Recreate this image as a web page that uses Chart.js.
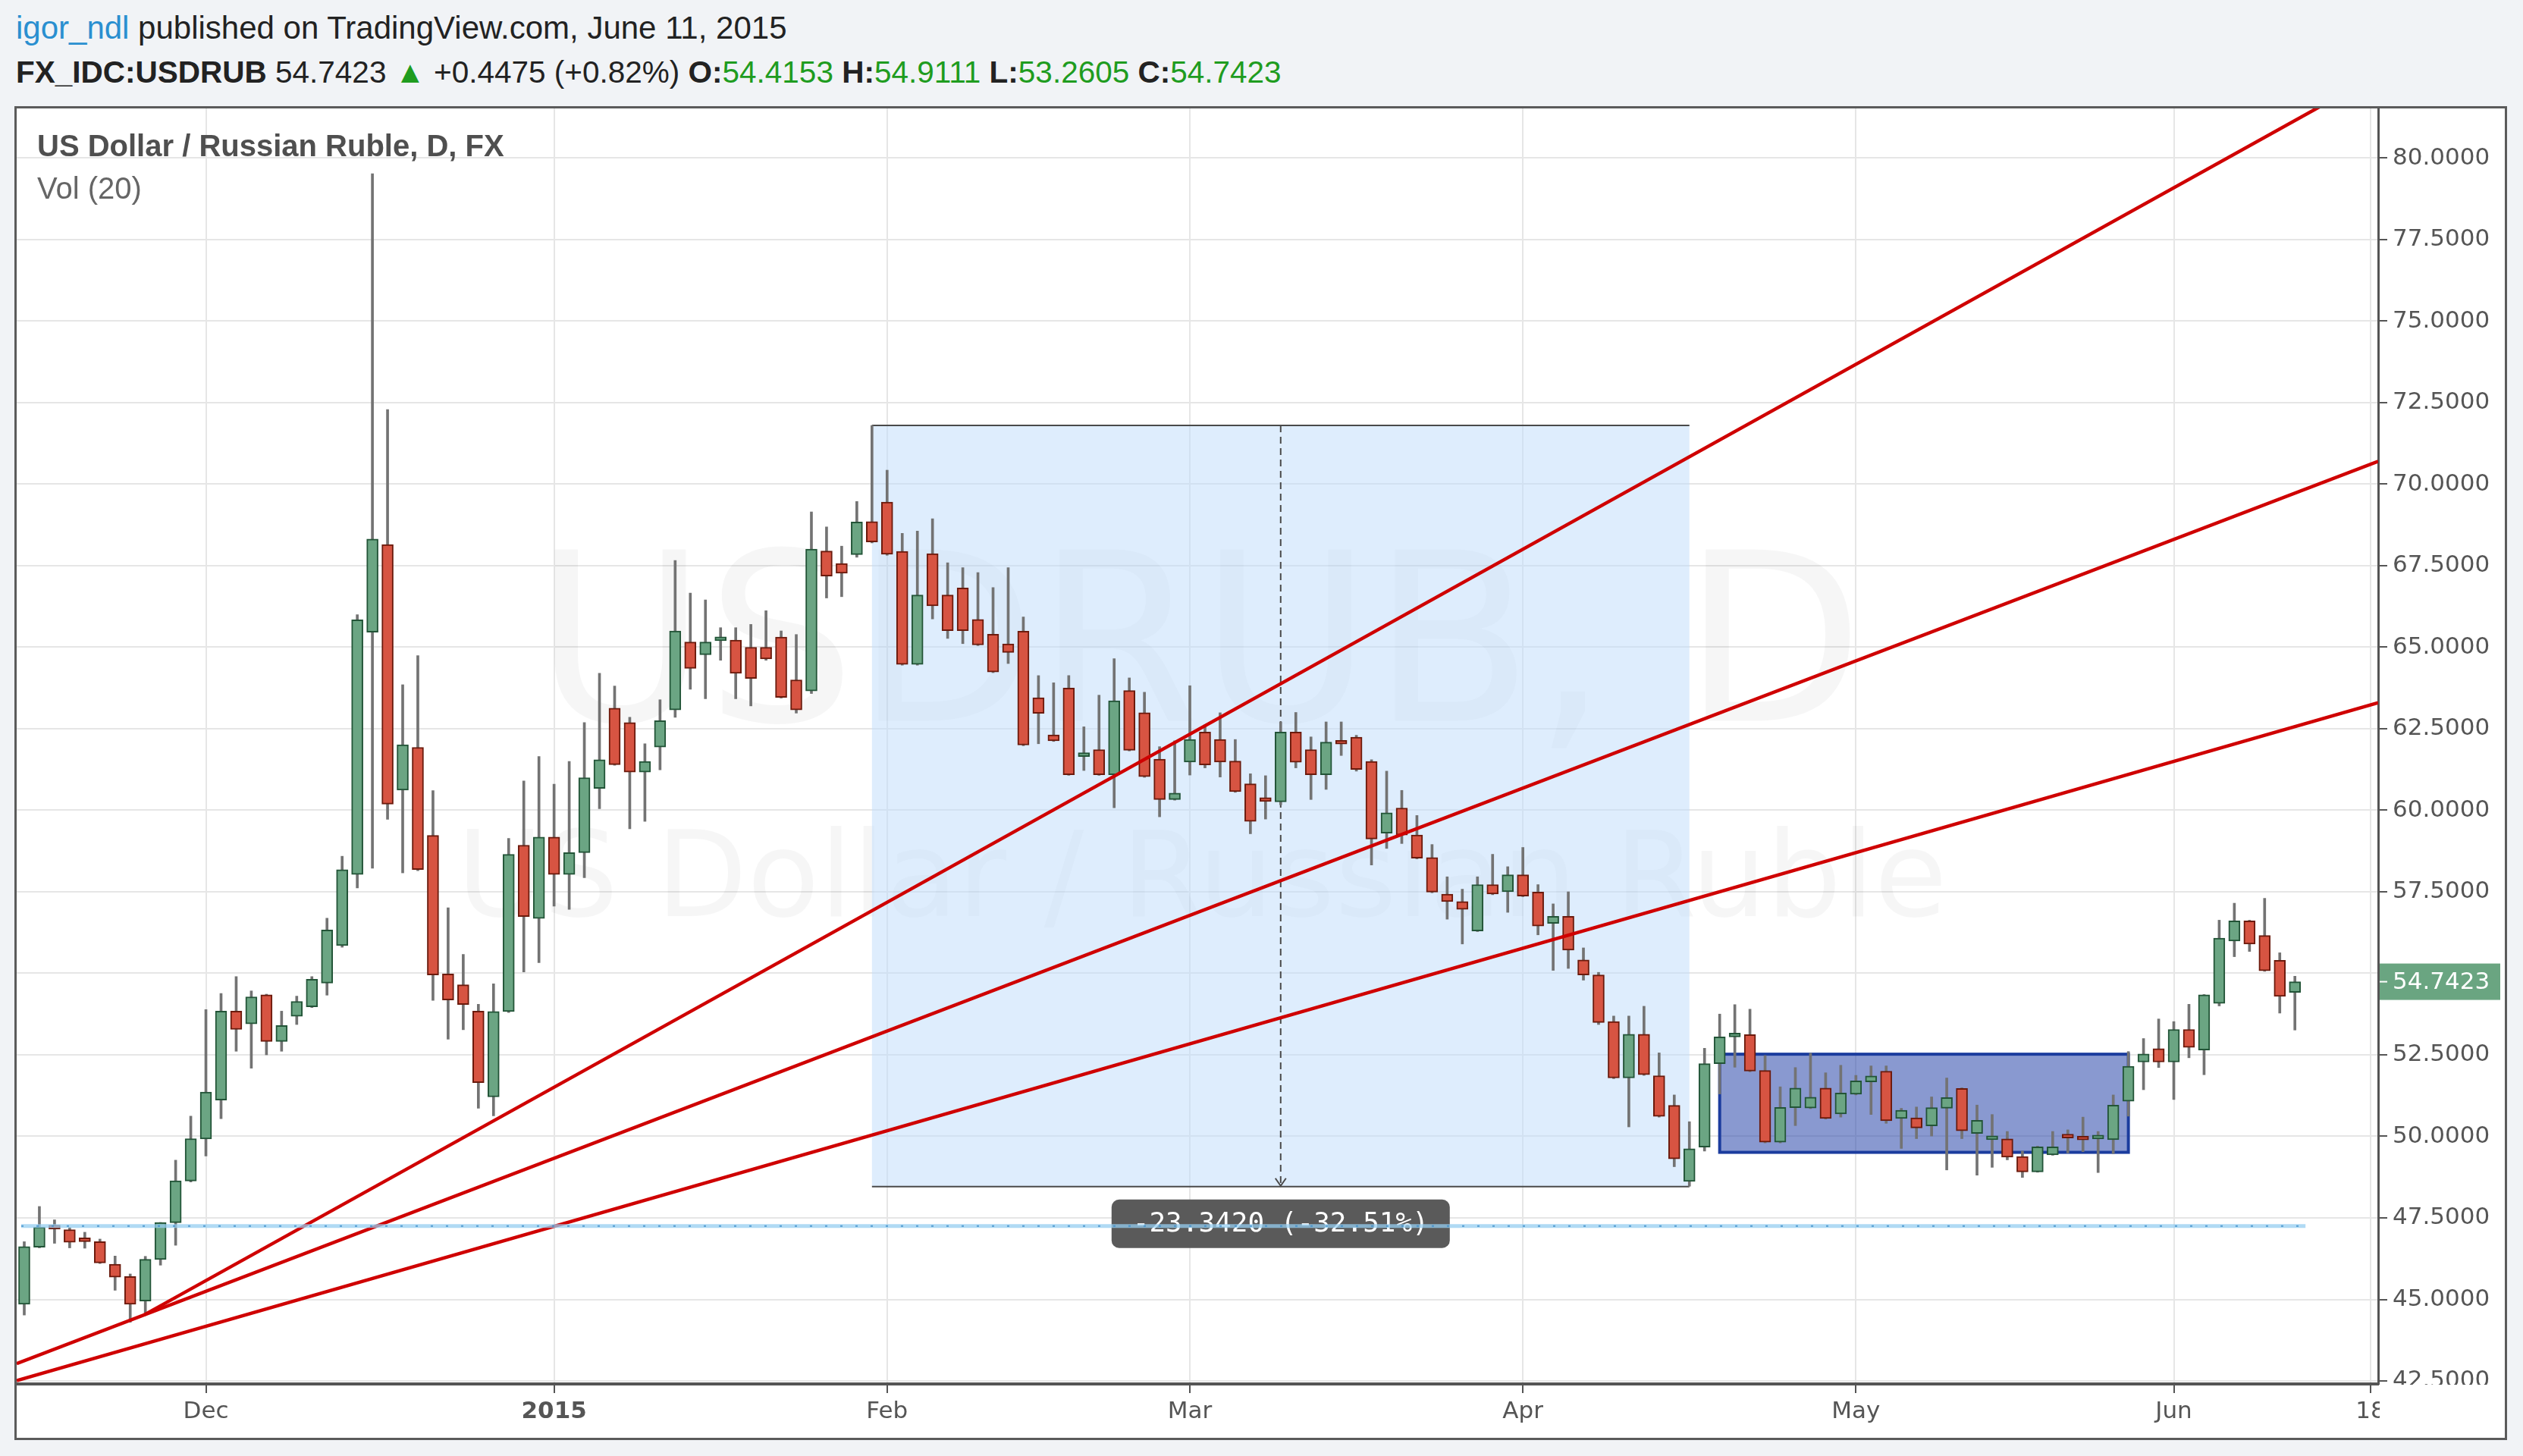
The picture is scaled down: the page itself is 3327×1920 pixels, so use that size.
<!DOCTYPE html>
<html>
<head>
<meta charset="utf-8">
<script src="https://cdn.jsdelivr.net/npm/chart.js@4.4.1/dist/chart.umd.min.js"></script>
<style>
  html, body { margin: 0; padding: 0; }
  body { width: 3327px; height: 1920px; background: #f1f3f6; position: relative; overflow: hidden;
         font-family: "Liberation Sans", Arial, sans-serif; }
  .hdr { position: absolute; left: 21px; font-size: 42px; color: #222; white-space: nowrap; }
  #h1 { top: 13px; }
  #h2 { top: 72px; font-size: 40.5px; }
  .user { color: #2a8fd0; }
  .g { color: #1f9c1f; }
  #frame { position: absolute; left: 19px; top: 140px; width: 3287px; height: 1759px; box-sizing: border-box;
           border: 3px solid #5b5b5b; background: #fff; }
  #chart { position: absolute; left: 0; top: 0; }
</style>
</head>
<body>
<div class="hdr" id="h1"><span class="user">igor_ndl</span> published on TradingView.com, June 11, 2015</div>
<div class="hdr" id="h2"><b>FX_IDC:USDRUB</b> 54.7423 <span class="g">&#9650;</span> +0.4475 (+0.82%) <b>O:</b><span class="g">54.4153</span> <b>H:</b><span class="g">54.9111</span> <b>L:</b><span class="g">53.2605</span> <b>C:</b><span class="g">54.7423</span></div>
<div id="frame"><canvas id="chart" width="3281" height="1753"></canvas></div>
<script>
// daily candles, 13 Nov 2014 .. 11 Jun 2015 (weekdays)
const open = [
  44.85, 46.60, 47.20, 47.14, 46.80, 46.77, 46.08, 45.70, 44.95, 46.22,
  47.35, 48.63, 49.92, 51.11, 53.84, 53.45, 54.34, 52.91, 53.68, 53.97,
  54.70, 55.85, 58.03, 65.46, 68.15, 60.62, 61.93, 59.23, 54.98, 54.65,
  53.84, 51.21, 53.83, 58.93, 56.68, 59.18, 58.03, 58.70, 60.67, 63.13,
  62.69, 61.17, 61.94, 63.08, 65.16, 64.77, 65.20, 65.22, 65.00, 65.00,
  65.31, 64.00, 63.66, 67.95, 67.57, 67.84, 68.85, 69.45, 67.94, 64.47,
  67.87, 66.60, 66.82, 65.85, 65.40, 65.10, 65.49, 63.45, 62.31, 63.75,
  61.65, 61.86, 61.09, 63.67, 62.99, 61.57, 60.33, 61.48, 62.40, 62.17,
  61.51, 60.81, 60.30, 60.26, 62.40, 61.86, 61.09, 62.06, 62.24, 61.50,
  59.30, 60.07, 59.24, 58.55, 57.43, 57.20, 56.30, 57.72, 57.50, 58.02,
  57.49, 56.53, 56.75, 55.41, 54.95, 53.52, 51.79, 53.13, 51.86, 50.95,
  48.62, 49.67, 52.23, 53.05, 53.12, 52.02, 49.82, 50.88, 50.87, 51.48,
  50.69, 51.29, 51.67, 52.00, 50.55, 50.57, 50.32, 50.86, 51.47, 50.09,
  49.90, 49.92, 49.38, 48.91, 49.43, 49.97, 49.91, 49.92, 49.90, 51.08,
  52.28, 52.69, 52.28, 53.28, 52.65, 54.08, 55.99, 56.61, 56.16, 55.40,
  54.4153
];
const high = [
  46.77, 47.85, 47.44, 47.20, 47.06, 46.85, 46.33, 45.78, 46.32, 47.36,
  49.27, 50.62, 53.89, 54.38, 54.90, 54.46, 54.36, 53.84, 54.30, 54.90,
  56.69, 58.59, 66.00, 79.52, 72.29, 63.85, 64.74, 60.60, 57.01, 55.58,
  54.05, 54.68, 59.14, 60.90, 61.65, 60.80, 61.50, 62.69, 64.20, 63.81,
  62.85, 62.04, 63.39, 67.66, 66.66, 66.45, 65.60, 65.60, 65.70, 66.12,
  65.50, 65.39, 69.15, 68.69, 68.10, 69.47, 71.80, 70.43, 68.49, 68.56,
  68.94, 67.59, 67.44, 67.29, 66.83, 67.44, 65.93, 64.13, 63.91, 64.13,
  62.56, 63.53, 64.65, 64.06, 63.62, 61.95, 62.13, 63.82, 62.62, 62.99,
  62.17, 61.12, 61.06, 62.71, 63.00, 62.25, 62.71, 62.71, 62.30, 61.55,
  61.20, 60.61, 59.84, 58.95, 57.96, 57.58, 57.96, 58.65, 58.27, 58.86,
  57.72, 57.13, 57.50, 55.78, 55.03, 53.69, 53.69, 53.99, 52.56, 51.27,
  50.45, 52.70, 53.75, 54.04, 53.90, 52.48, 51.52, 52.11, 52.55, 51.95,
  52.18, 51.87, 52.16, 52.16, 50.86, 50.90, 51.21, 51.79, 51.49, 50.96,
  50.67, 50.15, 49.55, 49.70, 50.15, 50.20, 50.59, 50.15, 51.27, 52.60,
  53.00, 53.60, 53.52, 54.05, 54.35, 56.63, 57.15, 56.63, 57.30, 55.63,
  54.9111
];
const low = [
  44.52, 46.58, 46.72, 46.58, 46.57, 46.10, 45.28, 44.30, 44.60, 46.05,
  46.66, 48.60, 49.40, 50.54, 52.61, 52.09, 52.50, 52.61, 53.43, 53.95,
  54.33, 55.80, 57.62, 58.22, 59.72, 58.08, 58.15, 54.17, 52.98, 53.27,
  50.86, 50.63, 53.80, 55.04, 55.33, 57.06, 56.96, 57.93, 60.05, 61.38,
  59.43, 59.66, 61.24, 62.85, 63.71, 63.42, 64.60, 63.42, 63.20, 64.60,
  63.44, 62.98, 63.58, 66.51, 66.55, 67.76, 68.20, 67.82, 64.45, 64.45,
  65.87, 65.27, 65.11, 65.05, 64.22, 64.50, 61.98, 62.04, 62.11, 61.07,
  61.22, 61.07, 60.08, 61.82, 61.01, 59.80, 60.31, 61.08, 61.30, 61.02,
  60.55, 59.28, 59.73, 60.17, 61.30, 60.33, 60.64, 61.68, 61.20, 58.32,
  58.83, 58.98, 58.51, 57.47, 56.66, 55.90, 56.28, 57.41, 56.87, 57.35,
  56.18, 55.09, 55.15, 54.79, 53.43, 51.77, 50.29, 51.87, 50.59, 49.07,
  48.47, 49.55, 51.30, 52.12, 51.98, 49.80, 49.80, 50.33, 50.85, 50.53,
  50.59, 51.27, 50.67, 50.40, 49.63, 49.93, 50.01, 48.97, 49.93, 48.81,
  49.05, 49.28, 48.74, 48.90, 49.42, 49.49, 49.53, 48.89, 49.47, 50.62,
  51.43, 52.11, 51.13, 52.41, 51.89, 54.00, 55.51, 55.67, 55.06, 53.78,
  53.2605
];
const close = [
  46.62, 47.22, 47.16, 46.75, 46.77, 46.12, 45.68, 44.85, 46.23, 47.36,
  48.64, 49.93, 51.36, 53.84, 53.28, 54.28, 52.91, 53.40, 54.14, 54.82,
  56.33, 58.18, 65.84, 68.32, 60.19, 62.01, 58.18, 54.95, 54.18, 54.04,
  51.65, 53.83, 58.65, 56.74, 59.18, 58.03, 58.70, 61.00, 61.55, 61.40,
  61.17, 61.50, 62.75, 65.50, 64.35, 65.16, 65.25, 64.20, 64.04, 64.64,
  63.46, 63.08, 68.01, 67.18, 67.27, 68.84, 68.23, 67.85, 64.47, 66.60,
  66.27, 65.51, 65.51, 65.07, 64.24, 64.84, 62.00, 62.97, 62.13, 61.09,
  61.68, 61.09, 63.36, 61.84, 61.03, 60.33, 60.53, 62.17, 61.39, 61.48,
  60.57, 59.66, 60.27, 62.40, 61.47, 61.09, 62.09, 62.03, 61.25, 59.12,
  59.92, 59.24, 58.53, 57.49, 57.20, 56.96, 57.72, 57.43, 58.02, 57.37,
  56.45, 56.75, 55.71, 54.95, 53.49, 51.79, 53.13, 51.89, 50.61, 49.31,
  49.62, 52.23, 53.05, 53.10, 52.00, 49.82, 50.89, 51.48, 51.20, 50.55,
  51.33, 51.70, 51.85, 50.48, 50.80, 50.26, 50.88, 51.19, 50.17, 50.49,
  49.93, 49.36, 48.91, 49.68, 49.68, 49.95, 49.89, 49.95, 50.96, 52.15,
  52.53, 52.28, 53.28, 52.73, 54.34, 56.08, 56.61, 55.90, 55.08, 54.29,
  54.7423
];

// axis ticks (bar index of first trading day of each month, plus 18 Jun)
const monthTickIdx = [12, 35, 57, 77, 99, 121, 142, 155];
const monthTickLabels = ['Dec', '2015', 'Feb', 'Mar', 'Apr', 'May', 'Jun', '18'];
const priceTicks = [42.5, 45, 47.5, 50, 52.5, 55, 57.5, 60, 62.5, 65, 67.5, 70, 72.5, 75, 77.5, 80];
const lastPrice = 54.7423;

// drawings on the chart (bar index, price)
const fanA = [{x: 7.9, y: 44.52}, {x: 155.5, y: 82.57}];
const fanB = [{x: -0.5, y: 43.03}, {x: 155.5, y: 70.70}];
const fanC = [{x: -0.5, y: 42.51}, {x: 155.5, y: 63.30}];
const measureX = [56, 110];
const measureY = [48.46, 71.80];
const measureText = '-23.3420 (-32.51%)';
const rangeBoxX = [112, 139];
const rangeBoxY = [49.51, 52.52];
const levelX = [-0.2, 150.7];
const levelY = 47.25;

const idx = close.map((_, i) => i);
const up = idx.map(i => close[i] >= open[i]);
const wicks = idx.map(i => ({x: i, y: [low[i], high[i]]}));
const bodies = idx.map(i => ({x: i, y: [Math.min(open[i], close[i]), Math.max(open[i], close[i])]}));

const drawings = {
  id: 'drawings',
  beforeDatasetsDraw(chart) {
    const {ctx, chartArea: a, scales: {x, y}} = chart;
    ctx.save();
    ctx.beginPath();
    ctx.rect(a.left, a.top, a.right - a.left, a.bottom - a.top);
    ctx.clip();

    // watermark
    const cx = (a.left + a.right) / 2, cy = (a.top + a.bottom) / 2;
    ctx.fillStyle = 'rgba(0,0,0,0.035)';
    ctx.textAlign = 'center';
    ctx.textBaseline = 'middle';
    ctx.font = '310px "DejaVu Sans"';
    ctx.fillText('USDRUB, D', cx + 2, cy - 114);
    ctx.font = '156px "DejaVu Sans"';
    ctx.fillText('US Dollar / Russian Ruble', cx + 6, cy + 183);

    // measure box
    const mx0 = x.getPixelForValue(measureX[0]), mx1 = x.getPixelForValue(measureX[1]);
    const myT = y.getPixelForValue(measureY[1]), myB = y.getPixelForValue(measureY[0]);
    ctx.fillStyle = 'rgba(190,220,252,0.5)';
    ctx.fillRect(mx0, myT, mx1 - mx0, myB - myT);
    ctx.strokeStyle = '#4a4a4a';
    ctx.lineWidth = 2;
    ctx.beginPath();
    ctx.moveTo(mx0, myT); ctx.lineTo(mx1, myT);
    ctx.moveTo(mx0, myB); ctx.lineTo(mx1, myB);
    ctx.stroke();
    const mc = x.getPixelForValue((measureX[0] + measureX[1]) / 2);
    ctx.setLineDash([9, 6]);
    ctx.beginPath();
    ctx.moveTo(mc, myT); ctx.lineTo(mc, myB);
    ctx.stroke();
    ctx.setLineDash([]);
    ctx.beginPath();
    ctx.moveTo(mc - 7, myB - 11); ctx.lineTo(mc, myB - 1); ctx.lineTo(mc + 7, myB - 11);
    ctx.stroke();

    // range rectangle
    const rx0 = x.getPixelForValue(rangeBoxX[0]), rx1 = x.getPixelForValue(rangeBoxX[1]);
    const ryT = y.getPixelForValue(rangeBoxY[1]), ryB = y.getPixelForValue(rangeBoxY[0]);
    ctx.fillStyle = 'rgba(40,70,170,0.55)';
    ctx.fillRect(rx0, ryT, rx1 - rx0, ryB - ryT);
    ctx.strokeStyle = '#1b3c9e';
    ctx.lineWidth = 4;
    ctx.strokeRect(rx0, ryT, rx1 - rx0, ryB - ryT);
    ctx.restore();
  },
  afterDatasetsDraw(chart) {
    const {ctx, chartArea: a, scales: {x, y}} = chart;
    ctx.save();
    // measure label
    const mc = x.getPixelForValue((measureX[0] + measureX[1]) / 2);
    const myB = y.getPixelForValue(measureY[0]);
    const w = 446, h = 64, top = myB + 17;
    ctx.fillStyle = '#5a5a5a';
    ctx.beginPath();
    ctx.roundRect(mc - w / 2, top, w, h, 10);
    ctx.fill();
    ctx.fillStyle = '#fff';
    ctx.font = '36px "DejaVu Sans Mono"';
    ctx.textAlign = 'center';
    ctx.textBaseline = 'middle';
    ctx.fillText(measureText, mc, top + h / 2 + 1);

    // horizontal level
    const ly = y.getPixelForValue(levelY);
    const lx0 = x.getPixelForValue(levelX[0]), lx1 = x.getPixelForValue(levelX[1]);
    ctx.strokeStyle = 'rgba(150,205,240,0.75)';
    ctx.lineWidth = 5;
    ctx.beginPath(); ctx.moveTo(lx0, ly); ctx.lineTo(lx1, ly); ctx.stroke();
    ctx.strokeStyle = 'rgba(60,140,200,0.8)';
    ctx.lineWidth = 2;
    ctx.setLineDash([3, 17]);
    ctx.beginPath(); ctx.moveTo(lx0, ly); ctx.lineTo(lx1, ly); ctx.stroke();
    ctx.setLineDash([]);

    // title inside the pane
    ctx.textAlign = 'left';
    ctx.textBaseline = 'middle';
    ctx.fillStyle = '#4f4f4f';
    ctx.font = 'bold 40px "Liberation Sans"';
    ctx.fillText('US Dollar / Russian Ruble, D, FX', a.left + 27, a.top + 52);
    ctx.fillStyle = '#666';
    ctx.font = '40px "Liberation Sans"';
    ctx.fillText('Vol (20)', a.left + 27, a.top + 108);
    ctx.restore();
  },
  afterDraw(chart) {
    const {ctx, chartArea: a, scales: {y}} = chart;
    ctx.save();
    // price axis corner is hidden under the time axis row
    ctx.fillStyle = '#fff';
    ctx.fillRect(a.right + 2, a.bottom + 1, chart.width - a.right - 2, chart.height - a.bottom - 1);
    // last price label
    const py = y.getPixelForValue(lastPrice);
    ctx.fillStyle = '#6aa581';
    ctx.fillRect(a.right + 2, py - 24, chart.width - a.right - 8, 48);
    ctx.strokeStyle = '#fff';
    ctx.lineWidth = 2;
    ctx.beginPath(); ctx.moveTo(a.right + 2, py); ctx.lineTo(a.right + 12, py); ctx.stroke();
    ctx.fillStyle = '#fff';
    ctx.font = '31px "DejaVu Sans"';
    ctx.textAlign = 'left';
    ctx.textBaseline = 'middle';
    ctx.fillText(lastPrice.toFixed(4), a.right + 19, py + 1);
    ctx.restore();
  }
};

const fanStyle = {type: 'line', borderColor: '#cf0000', borderWidth: 4.5, pointRadius: 0, clip: 0, order: 0};

new Chart(document.getElementById('chart'), {
  type: 'bar',
  data: {
    datasets: [
      Object.assign({data: fanA}, fanStyle),
      Object.assign({data: fanB}, fanStyle),
      Object.assign({data: fanC}, fanStyle),
      {
        data: bodies,
        backgroundColor: up.map(u => u ? '#6ba583' : '#d75442'),
        borderColor: up.map(u => u ? '#225437' : '#6b1a0c'),
        borderWidth: 2,
        borderSkipped: false,
        barThickness: 15,
        minBarLength: 5,
        grouped: false,
        order: 1
      },
      {
        data: wicks,
        backgroundColor: '#737373',
        borderWidth: 0,
        barThickness: 3,
        grouped: false,
        order: 2
      }
    ]
  },
  options: {
    responsive: false,
    devicePixelRatio: 1,
    animation: false,
    layout: { padding: 0 },
    plugins: { legend: { display: false }, tooltip: { enabled: false } },
    scales: {
      x: {
        type: 'linear',
        min: -0.5,
        max: 155.5,
        offset: false,
        afterBuildTicks: (axis) => { axis.ticks = monthTickIdx.map(v => ({value: v})); },
        afterFit: (axis) => { axis.height = 71; axis.paddingLeft = 0; axis.paddingRight = 0; },
        grid: { offset: false, color: '#e6e6e6', lineWidth: 2, tickColor: '#555', tickLength: 12, tickWidth: 2 },
        border: { color: '#555', width: 4 },
        ticks: {
          autoSkip: false,
          maxRotation: 0,
          padding: 6,
          color: '#555',
          font: (c) => ({family: 'DejaVu Sans', size: 31, weight: c.tick && c.tick.label === '2015' ? 'bold' : 'normal'}),
          callback: (v, i) => monthTickLabels[i]
        }
      },
      y: {
        position: 'right',
        min: 42.407,
        max: 81.523,
        afterBuildTicks: (axis) => { axis.ticks = priceTicks.map(v => ({value: v})); },
        afterFit: (axis) => { axis.width = 167; axis.paddingTop = 0; axis.paddingBottom = 0; },
        grid: { color: '#e6e6e6', lineWidth: 2, tickColor: '#555', tickLength: 12, tickWidth: 2 },
        border: { color: '#555', width: 3 },
        ticks: {
          padding: 7,
          color: '#555',
          font: { family: 'DejaVu Sans', size: 31 },
          // labels under the last-price marker are not shown
          callback: (v) => Math.abs(v - lastPrice) < 0.6 ? '' : Number(v).toFixed(4)
        }
      }
    }
  },
  plugins: [drawings]
});
</script>
</body>
</html>
